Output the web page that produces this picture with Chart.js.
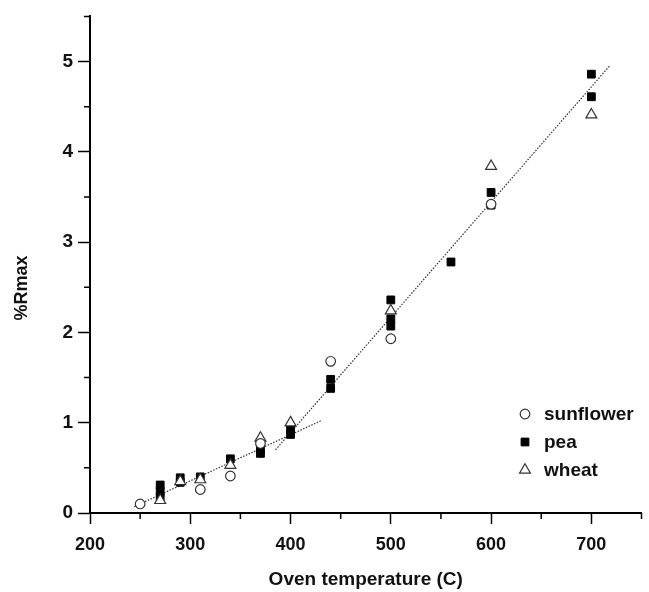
<!DOCTYPE html>
<html>
<head>
<meta charset="utf-8">
<script src="https://cdn.jsdelivr.net/npm/chart.js@4.4.1/dist/chart.umd.min.js"></script>
<style>
html,body{margin:0;padding:0;background:#fff;}
#wrap{width:649px;height:592px;position:relative;}
</style>
</head>
<body>
<div id="wrap"><canvas id="c" width="649" height="592"></canvas></div>
<script>
// ---- data ----
const sunflowerX = [250, 310, 340, 370, 440, 500, 600];
const sunflowerY = [0.10, 0.26, 0.41, 0.77, 1.68, 1.93, 3.42];

const peaX = [270, 270, 270, 290, 290, 310, 340, 370, 370, 400, 400, 440, 440, 500, 500, 500, 560, 600, 600, 700, 700];
const peaY = [0.31, 0.24, 0.17, 0.39, 0.34, 0.40, 0.60, 0.70, 0.66, 0.92, 0.87, 1.48, 1.38, 2.36, 2.15, 2.07, 2.78, 3.55, 3.41, 4.86, 4.61];

const wheatX = [270, 290, 310, 340, 370, 400, 500, 600, 700];
const wheatY = [0.14, 0.35, 0.37, 0.53, 0.83, 1.00, 2.24, 3.84, 4.41];

const fit1X = [244, 430];
const fit1Y = [0.07, 1.02];
const fit2X = [385, 718];
const fit2Y = [0.70, 4.95];

const xTicks = [200, 300, 400, 500, 600, 700];
const xMinorTicks = [250, 350, 450, 550, 650, 750];
const yTicks = [0, 1, 2, 3, 4, 5];
const yMinorTicks = [0.5, 1.5, 2.5, 3.5, 4.5, 5.5];

const seriesNames = ['sunflower', 'pea', 'wheat'];
const xTitle = 'Oven temperature (C)';
const yTitle = '%Rmax';

const toPts = (xs, ys) => xs.map((x, i) => ({x: x, y: ys[i]}));

const FONT = "'Liberation Sans', Arial, sans-serif";

const minorTicks = {
  id: 'minorTicks',
  afterDraw(chart) {
    const {ctx, chartArea, scales} = chart;
    ctx.save();
    ctx.strokeStyle = '#000';
    ctx.lineWidth = 1.5;
    ctx.beginPath();
    xMinorTicks.forEach(v => {
      const px = scales.x.getPixelForValue(v);
      ctx.moveTo(px, chartArea.bottom);
      ctx.lineTo(px, chartArea.bottom + 6);
    });
    yMinorTicks.forEach(v => {
      const py = scales.y.getPixelForValue(v);
      ctx.moveTo(chartArea.left, py);
      ctx.lineTo(chartArea.left - 6, py);
    });
    ctx.stroke();
    // y axis title
    ctx.translate(22, 288);
    ctx.rotate(-Math.PI / 2);
    ctx.fillStyle = '#111';
    ctx.font = 'bold 18px ' + FONT;
    ctx.textAlign = 'center';
    ctx.textBaseline = 'middle';
    ctx.fillText(yTitle, 0, 0);
    ctx.restore();
  }
};

const innerLegend = {
  id: 'innerLegend',
  afterDraw(chart) {
    const {ctx} = chart;
    ctx.save();
    const rows = [414, 442, 470];
    seriesNames.forEach((name, i) => {
      const ds = chart.data.datasets[i];
      const mx = 525, my = rows[i];
      ctx.lineWidth = ds.pointBorderWidth;
      ctx.strokeStyle = ds.pointBorderColor;
      ctx.fillStyle = ds.pointBackgroundColor;
      Chart.helpers.drawPoint(ctx, {pointStyle: ds.pointStyle, radius: ds.pointRadius, borderWidth: ds.pointBorderWidth}, mx, my);
      ctx.fillStyle = '#111';
      ctx.font = 'bold 19px ' + FONT;
      ctx.textBaseline = 'middle';
      ctx.textAlign = 'left';
      ctx.fillText(name, 544, my + 1);
    });
    ctx.restore();
  }
};

new Chart(document.getElementById('c'), {
  type: 'scatter',
  data: {
    datasets: [
      {label: seriesNames[0], data: toPts(sunflowerX, sunflowerY), pointStyle: 'circle', pointRadius: 4.8,
       pointBackgroundColor: '#fff', pointBorderColor: '#333', pointBorderWidth: 1.2, order: 1},
      {label: seriesNames[1], data: toPts(peaX, peaY), pointStyle: 'rect', pointRadius: 5.5,
       pointBackgroundColor: '#000', pointBorderColor: '#000', pointBorderWidth: 1, order: 3},
      {label: seriesNames[2], data: toPts(wheatX, wheatY), pointStyle: 'triangle', pointRadius: 6.3,
       pointBackgroundColor: '#fff', pointBorderColor: '#333', pointBorderWidth: 1.2, order: 2},
      {label: 'fit1', data: toPts(fit1X, fit1Y), showLine: true, pointRadius: 0, borderColor: '#333',
       borderWidth: 1.2, borderDash: [1.5, 1.5], order: 4},
      {label: 'fit2', data: toPts(fit2X, fit2Y), showLine: true, pointRadius: 0, borderColor: '#333',
       borderWidth: 1.2, borderDash: [1.5, 1.5], order: 4}
    ]
  },
  options: {
    responsive: false,
    animation: false,
    layout: {padding: {left: 0, right: 2, top: 12, bottom: 0}},
    plugins: {legend: {display: false}, tooltip: {enabled: false}},
    scales: {
      x: {
        type: 'linear', min: 200, max: 750,
        afterBuildTicks: s => { s.ticks = xTicks.map(v => ({value: v})); },
        afterFit: s => { s.height = 79; },
        grid: {display: true, drawOnChartArea: false, drawTicks: true, tickLength: 11, tickWidth: 1.5, tickColor: '#000'},
        border: {display: true, color: '#000', width: 2},
        ticks: {color: '#111', font: {family: FONT, size: 18, weight: 'bold'}, padding: 10, maxRotation: 0},
        title: {display: true, text: xTitle, color: '#111', font: {family: FONT, size: 19, weight: 'bold'}, padding: {top: 4, bottom: 1}}
      },
      y: {
        type: 'linear', min: 0, max: 5.5,
        afterBuildTicks: s => { s.ticks = yTicks.map(v => ({value: v})); },
        afterFit: s => { s.width = 90; },
        grid: {display: true, drawOnChartArea: false, drawTicks: true, tickLength: 12, tickWidth: 1.5, tickColor: '#000'},
        border: {display: true, color: '#000', width: 2},
        ticks: {color: '#111', font: {family: FONT, size: 19, weight: 'bold'}, padding: 5},
        title: {display: false}
      }
    }
  },
  plugins: [minorTicks, innerLegend]
});
</script>
</body>
</html>
